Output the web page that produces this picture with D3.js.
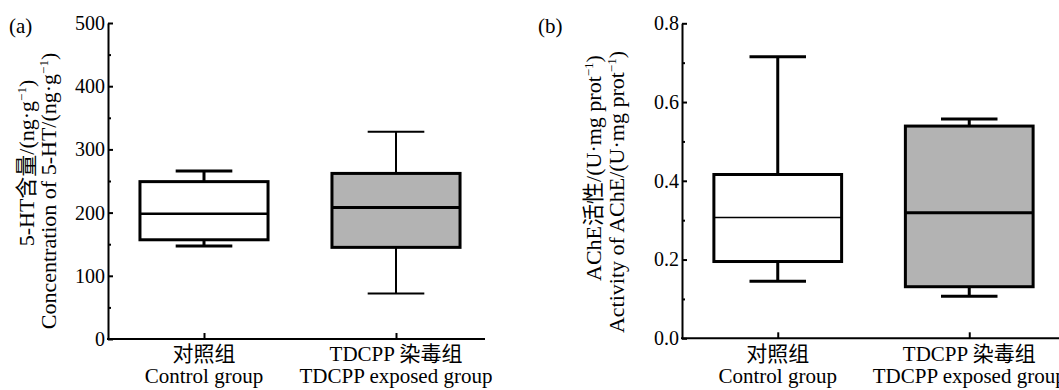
<!DOCTYPE html>
<html>
<head>
<meta charset="utf-8">
<script src="https://cdn.jsdelivr.net/npm/d3@7"></script>
<style>
  body { margin: 0; background: #fff; }
</style>
</head>
<body>
<svg id="drawing_region"></svg>
<script>
// groups on the x axis
const groupsCN = ["对照组", "TDCPP 染毒组"];
const groupsEN = ["Control group", "TDCPP exposed group"];

// (a) 5-HT, ng/g
const htMin = [147, 72];
const htQ1 = [157, 145];
const htMedian = [198, 208];
const htQ3 = [249, 262];
const htMax = [266, 328];
const htTicks = [0, 100, 200, 300, 400, 500];
const htMinorTicks = [50, 150, 250, 350, 450];

// (b) AChE, U/mg prot
const acheMin = [0.145, 0.107];
const acheQ1 = [0.195, 0.131];
const acheMedian = [0.307, 0.319];
const acheQ3 = [0.416, 0.539];
const acheMax = [0.715, 0.557];
const acheTicks = [0.0, 0.2, 0.4, 0.6, 0.8];
const acheMinorTicks = [0.1, 0.3, 0.5, 0.7];

const FONT = '"Liberation Serif", "Times New Roman", "Noto Sans CJK SC", serif';
const svg = d3.select('#drawing_region').attr('width', 1059).attr('height', 390)
  .style('font-family', FONT);

class BoxPanel {
  constructor(config, data) {
    this.config = config;
    this.data = data;
    this.init();
  }
  init() {
    let self = this;
    let c = self.config;
    self.chart = svg.append('g');
    self.xscale = d3.scalePoint().domain(groupsEN).range([c.left, c.xEnd]).padding(0.5);
    self.yscale = d3.scaleLinear().domain([0, c.ymax]).range([c.bottom, c.top]);
    self.render();
  }
  render() {
    let self = this;
    let c = self.config;
    let step = self.xscale.step();
    let boxW = step * 0.667, capW = step * 0.295;

    // boxes
    let g = self.chart.selectAll('.box').data(self.data).join('g')
      .attr('transform', d => `translate(${self.xscale(d.group)},0)`);
    g.append('line')
      .attr('y1', d => self.yscale(d.max)).attr('y2', d => self.yscale(d.q3))
      .attr('stroke', 'black').attr('stroke-width', (d, i) => c.whisker[i]);
    g.append('line')
      .attr('y1', d => self.yscale(d.min)).attr('y2', d => self.yscale(d.q1))
      .attr('stroke', 'black').attr('stroke-width', (d, i) => c.whisker[i]);
    g.append('line')
      .attr('x1', -capW / 2).attr('x2', capW / 2)
      .attr('y1', d => self.yscale(d.max)).attr('y2', d => self.yscale(d.max))
      .attr('stroke', 'black').attr('stroke-width', (d, i) => c.whisker[i]);
    g.append('line')
      .attr('x1', -capW / 2).attr('x2', capW / 2)
      .attr('y1', d => self.yscale(d.min)).attr('y2', d => self.yscale(d.min))
      .attr('stroke', 'black').attr('stroke-width', (d, i) => c.whisker[i]);
    g.append('rect')
      .attr('x', -boxW / 2).attr('width', boxW)
      .attr('y', d => self.yscale(d.q3))
      .attr('height', d => self.yscale(d.q1) - self.yscale(d.q3))
      .attr('fill', (d, i) => i == 0 ? '#ffffff' : '#b3b3b3')
      .attr('stroke', 'black').attr('stroke-width', 3);
    g.append('line')
      .attr('x1', -boxW / 2).attr('x2', boxW / 2)
      .attr('y1', d => self.yscale(d.median)).attr('y2', d => self.yscale(d.median))
      .attr('stroke', 'black').attr('stroke-width', (d, i) => c.median[i]);

    // y axis
    let yaxis = d3.axisLeft(self.yscale).tickValues(c.ticks).tickFormat(c.fmt)
      .tickSizeInner(-5).tickSizeOuter(0).tickPadding(3);
    let yg = self.chart.append('g').attr('transform', `translate(${c.left},0)`).call(yaxis)
      .attr('font-family', null).attr('font-size', 20);
    let yminor = d3.axisLeft(self.yscale).tickValues(c.minor).tickFormat('').tickSizeInner(-3).tickSizeOuter(0);
    self.chart.append('g').attr('transform', `translate(${c.left},0)`).call(yminor).select('.domain').remove();
    yg.selectAll('text').style('font-family', FONT).attr('fill', 'black');
    self.chart.selectAll('.domain, .tick line').attr('stroke', 'black').attr('stroke-width', 2);

    // x axis
    let xaxis = d3.axisBottom(self.xscale).tickFormat('').tickSizeInner(-6).tickSizeOuter(0);
    let xg = self.chart.append('g').attr('transform', `translate(0,${c.bottom})`).call(xaxis);
    xg.select('.domain').remove();
    xg.selectAll('.tick line').attr('stroke', 'black').attr('stroke-width', 2);
    self.chart.append('line')
      .attr('x1', c.left - 1).attr('x2', c.right)
      .attr('y1', c.bottom).attr('y2', c.bottom)
      .attr('stroke', 'black').attr('stroke-width', 2);

    // category labels
    groupsEN.forEach((name, i) => {
      self.chart.append('text').attr('text-anchor', 'middle').attr('font-size', 21)
        .style('font-family', FONT)
        .attr('x', self.xscale(name)).attr('y', 361).text(groupsCN[i]);
      self.chart.append('text').attr('text-anchor', 'middle').attr('font-size', 21)
        .style('font-family', FONT)
        .attr('x', self.xscale(name)).attr('y', 383).text(name);
    });

    // y title, two lines with superscripts
    c.ytitle.forEach((parts, i) => {
      let t = self.chart.append('text').attr('text-anchor', 'middle').attr('font-size', 22)
        .style('font-family', FONT)
        .attr('transform', `translate(${c.ytitleX[i]},${c.ytitleY[i]}) rotate(-90)`);
      parts.forEach(p => {
        if (p.sup) {
          t.append('tspan').attr('font-size', 13).attr('dy', -8).text(p.t);
        } else {
          t.append('tspan').attr('dy', p.back ? 8 : 0).text(p.t);
        }
      });
    });

    self.chart.append('text').attr('x', c.tagX).attr('y', 33).attr('font-size', 21)
      .style('font-family', FONT).text(c.tag);
  }
}

function rows(mins, q1s, meds, q3s, maxs) {
  return groupsEN.map((g, i) => ({ group: g, min: mins[i], q1: q1s[i], median: meds[i], q3: q3s[i], max: maxs[i] }));
}

new BoxPanel({
  left: 108, xEnd: 492, right: 485, top: 23, bottom: 339, ymax: 500,
  ticks: htTicks, minor: htMinorTicks, fmt: d3.format('d'),
  whisker: [3, 2], median: [2.5, 3],
  tag: '(a)', tagX: 9,
  ytitleX: [34, 56], ytitleY: [163, 191],
  ytitle: [
    [{ t: '5-HT含量/(ng·g' }, { t: '−1', sup: true }, { t: ')', back: true }],
    [{ t: 'Concentration of 5-HT/(ng·g' }, { t: '−1', sup: true }, { t: ')', back: true }]
  ]
}, rows(htMin, htQ1, htMedian, htQ3, htMax));

new BoxPanel({
  left: 682, xEnd: 1065, right: 1059, top: 23.3, bottom: 338.3, ymax: 0.8,
  ticks: acheTicks, minor: acheMinorTicks, fmt: d3.format('.1f'),
  whisker: [3, 3], median: [1.5, 3],
  tag: '(b)', tagX: 538,
  ytitleX: [601, 624], ytitleY: [168, 192],
  ytitle: [
    [{ t: 'AChE活性/(U·mg prot' }, { t: '−1', sup: true }, { t: ')', back: true }],
    [{ t: 'Activity of AChE/(U·mg prot' }, { t: '−1', sup: true }, { t: ')', back: true }]
  ]
}, rows(acheMin, acheQ1, acheMedian, acheQ3, acheMax));
</script>
</body>
</html>
